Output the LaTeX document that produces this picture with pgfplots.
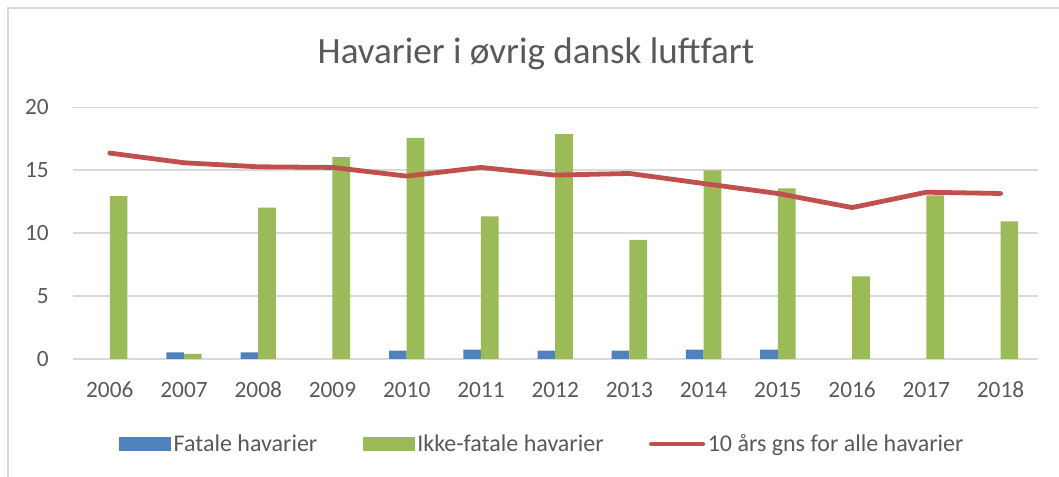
\documentclass[border=0pt]{standalone}
\usepackage{fontspec}
\setmainfont{Carlito}
\usepackage{pgfplots}
\pgfplotsset{compat=1.18}
\definecolor{cblue}{HTML}{4F81BD}
\definecolor{cgreen}{HTML}{9BBB59}
\definecolor{cred}{HTML}{C0504D}
\definecolor{cgrid}{HTML}{D9D9D9}
\definecolor{ctext}{HTML}{595959}
\begin{document}
\begin{tikzpicture}[x=1pt,y=1pt]
\path[use as bounding box] (0,0) rectangle (794.25,357.75);
\draw[cgrid, line width=0.9pt] (6,0) -- (6,351.75) -- (794.25,351.75);
\node[anchor=base, text=ctext, font=\fontsize{27.8}{32}\selectfont] at (402,310.3) {Havarier i øvrig dansk luftfart};
\begin{axis}[
  at={(54.5pt,88.5pt)}, anchor=south west,
  scale only axis, width=723.75pt, height=188.8pt,
  xmin=-0.5, xmax=12.5, ymin=0, ymax=20,
  xtick={0,...,12},
  xticklabels={2006,2007,2008,2009,2010,2011,2012,2013,2014,2015,2016,2017,2018},
  ytick={0,5,10,15,20},
  ymajorgrids, grid style={cgrid, line width=1.1pt},
  axis line style={draw=none},
  major tick length=0pt,
  /pgf/number format/assume math mode=true,
  tick label style={text=ctext, font=\fontsize{17.5}{20}\selectfont},
  xticklabel style={anchor=base, yshift=-29pt},
  yticklabel style={anchor=east, inner sep=0pt, xshift=-17.8pt},
  legend columns=3,
  legend style={at={(0.487,-0.338)}, anchor=center, draw=none, fill=none,
    font=\fontsize{18}{20}\selectfont, text=ctext,
    /tikz/every even column/.append style={column sep=32pt}},
  bar width=0.238,
]
\addplot[ybar, bar shift=-0.119, fill=cblue, draw=none,
  legend image code/.code={\fill[cblue] (0pt,-5.25pt) rectangle (39pt,5.25pt);}]
  coordinates {(1,0.53) (2,0.53) (4,0.66) (5,0.74) (6,0.66) (7,0.66) (8,0.74) (9,0.74)};
\addlegendentry{Fatale havarier}
\addplot[ybar, bar shift=0.119, fill=cgreen, draw=none,
  legend image code/.code={\fill[cgreen] (0pt,-5.25pt) rectangle (39pt,5.25pt);}]
  coordinates {(0,12.93) (1,0.4) (2,12.03) (3,16.04) (4,17.56) (5,11.34) (6,17.87) (7,9.46) (8,14.98) (9,13.55) (10,6.56) (11,12.99) (12,10.94)};
\addlegendentry{Ikke-fatale havarier}
\addplot[sharp plot, cred, line width=3.6pt, line cap=round, line join=round, mark=none,
  legend image code/.code={\draw[cred, line width=3.6pt, line cap=round] (1.5pt,0pt) -- (40pt,0pt);}]
  coordinates {(0,16.36) (1,15.59) (2,15.27) (3,15.22) (4,14.53) (5,15.22) (6,14.61) (7,14.74) (8,13.94) (9,13.15) (10,12.03) (11,13.25) (12,13.15)};
\addlegendentry{10 års gns for alle havarier}
\end{axis}
\end{tikzpicture}
\end{document}
